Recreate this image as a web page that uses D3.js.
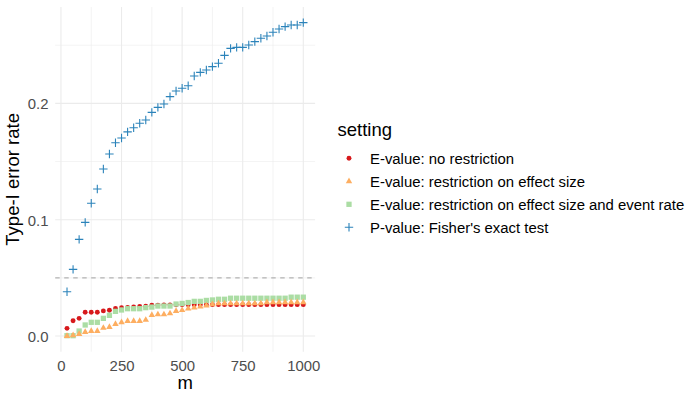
<!DOCTYPE html>
<html>
<head>
<meta charset="utf-8">
<script src="https://cdn.jsdelivr.net/npm/d3@7"></script>
<style>
  body { margin: 0; background: #fff; }
  svg text { font-family: "Liberation Sans", Arial, Helvetica, sans-serif; }
</style>
</head>
<body>
<svg id="chart" width="700" height="400"></svg>
<script>
// data
var mValues = [25, 50, 75, 100, 125, 150, 175, 200, 225, 250, 275, 300, 325, 350, 375, 400,
  425, 450, 475, 500, 525, 550, 575, 600, 625, 650, 675, 700, 725, 750, 775, 800,
  825, 850, 875, 900, 925, 950, 975, 1000];

var eNoRestriction = [0.0066, 0.0132, 0.0152, 0.0204, 0.0204, 0.0204, 0.0216, 0.0222, 0.0236, 0.0244,
  0.0246, 0.0250, 0.0254, 0.0256, 0.0264, 0.0266, 0.0268, 0.0268, 0.0268, 0.0270,
  0.0270, 0.0270, 0.0270, 0.0270, 0.0270, 0.0270, 0.0270, 0.0270, 0.0270, 0.0270,
  0.0270, 0.0270, 0.0270, 0.0270, 0.0270, 0.0270, 0.0270, 0.0270, 0.0270, 0.0270];

var eEffectSize = [0.0000, 0.0006, 0.0017, 0.0034, 0.0043, 0.0043, 0.0069, 0.0077, 0.0103, 0.0118,
  0.0129, 0.0129, 0.0129, 0.0138, 0.0180, 0.0186, 0.0186, 0.0195, 0.0215, 0.0222,
  0.0236, 0.0244, 0.0252, 0.0262, 0.0273, 0.0280, 0.0280, 0.0280, 0.0280, 0.0280,
  0.0280, 0.0280, 0.0280, 0.0290, 0.0290, 0.0290, 0.0290, 0.0290, 0.0290, 0.0290];

var eEffectEvent = [0.0003, 0.0003, 0.0043, 0.0095, 0.0118, 0.0118, 0.0152, 0.0178, 0.0212, 0.0224,
  0.0235, 0.0235, 0.0235, 0.0244, 0.0249, 0.0258, 0.0258, 0.0258, 0.0275, 0.0280,
  0.0288, 0.0298, 0.0298, 0.0306, 0.0310, 0.0316, 0.0316, 0.0325, 0.0325, 0.0325,
  0.0325, 0.0325, 0.0325, 0.0325, 0.0325, 0.0325, 0.0325, 0.0334, 0.0334, 0.0334];

var pFisher = [0.0381, 0.0573, 0.0831, 0.0977, 0.1141, 0.1264, 0.1436, 0.1565, 0.1662, 0.1703,
  0.1755, 0.1791, 0.1829, 0.1857, 0.1923, 0.1966, 0.1995, 0.2058, 0.2107, 0.2130,
  0.2152, 0.2236, 0.2267, 0.2287, 0.2316, 0.2345, 0.2413, 0.2473, 0.2482, 0.2482,
  0.2502, 0.2531, 0.2560, 0.2579, 0.2611, 0.2640, 0.2660, 0.2674, 0.2674, 0.2694];

var settingNames = ["E-value: no restriction", "E-value: restriction on effect size",
  "E-value: restriction on effect size and event rate", "P-value: Fisher's exact test"];
var settingColors = ["#D7191C", "#FDAE61", "#ABDDA4", "#2B83BA"];
var settingShapes = ["circle", "triangle", "square", "cross"];

var xTicks = [0, 250, 500, 750, 1000];
var xMinor = [125, 375, 625, 875];
var yTicks = [0, 0.1, 0.2];
var yTickLabels = ["0.0", "0.1", "0.2"];
var yMinor = [0.05, 0.15, 0.25];
var alphaLevel = 0.05;

var seriesList = [eNoRestriction, eEffectSize, eEffectEvent, pFisher];

var svg = d3.select("#chart");
var panel = { left: 55.2, right: 315.1, top: 7, bottom: 351.7 };

// ggplot-style 5% expansion
var xExt = d3.extent(mValues);
var xPad = (xExt[1] - xExt[0]) * 0.05;
var x = d3.scaleLinear().domain([xExt[0] - xPad, xExt[1] + xPad]).range([panel.left, panel.right]);

var allY = d3.merge(seriesList);
var yExt = d3.extent(allY);
var yPad = (yExt[1] - yExt[0]) * 0.05;
var y = d3.scaleLinear().domain([yExt[0] - yPad, yExt[1] + yPad]).range([panel.bottom, panel.top]);

// grid
var grid = svg.append("g");
grid.selectAll("line.xminor").data(xMinor).enter().append("line")
  .attr("x1", d => x(d)).attr("x2", d => x(d))
  .attr("y1", panel.top).attr("y2", panel.bottom)
  .attr("stroke", "#EBEBEB").attr("stroke-width", 0.6);
grid.selectAll("line.yminor").data(yMinor).enter().append("line")
  .attr("x1", panel.left).attr("x2", panel.right)
  .attr("y1", d => y(d)).attr("y2", d => y(d))
  .attr("stroke", "#EBEBEB").attr("stroke-width", 0.6);
grid.selectAll("line.xmajor").data(xTicks).enter().append("line")
  .attr("x1", d => x(d)).attr("x2", d => x(d))
  .attr("y1", panel.top).attr("y2", panel.bottom)
  .attr("stroke", "#EBEBEB").attr("stroke-width", 1.1);
grid.selectAll("line.ymajor").data(yTicks).enter().append("line")
  .attr("x1", panel.left).attr("x2", panel.right)
  .attr("y1", d => y(d)).attr("y2", d => y(d))
  .attr("stroke", "#EBEBEB").attr("stroke-width", 1.1);

// dashed reference line
svg.append("line")
  .attr("x1", panel.left).attr("x2", panel.right)
  .attr("y1", y(alphaLevel)).attr("y2", y(alphaLevel))
  .attr("stroke", "#B3B3B3").attr("stroke-width", 1.1)
  .attr("stroke-dasharray", "4.5,4.5");

// axes labels
var xAxis = d3.axisBottom(x).tickValues(xTicks).tickSize(0).tickPadding(0)
  .tickFormat(d3.format("d"));
var gx = svg.append("g").attr("transform", "translate(0,359)").call(xAxis);
gx.select(".domain").remove();
gx.selectAll("text").attr("font-size", 14.9).attr("fill", "#4D4D4D")
  .attr("y", 12).attr("dy", 0).attr("font-family", null);

var yAxis = d3.axisLeft(y).tickValues(yTicks).tickSize(0).tickPadding(0)
  .tickFormat((d, i) => yTickLabels[i]);
var gy = svg.append("g").attr("transform", "translate(48.5,0)").call(yAxis);
gy.select(".domain").remove();
gy.selectAll("text").attr("font-size", 14.9).attr("fill", "#4D4D4D")
  .attr("x", 0).attr("dy", "0.36em").attr("font-family", null);

svg.append("text").attr("x", (panel.left + panel.right) / 2).attr("y", 389)
  .attr("text-anchor", "middle").attr("font-size", 18.5).attr("fill", "#000")
  .text("m");
svg.append("text").attr("transform", "translate(19," + ((panel.top + panel.bottom) / 2) + ") rotate(-90)")
  .attr("text-anchor", "middle").attr("font-size", 18.5).attr("fill", "#000")
  .text("Type-I error rate");

// point shapes
function shapePath(shape) {
  if (shape === "circle") return d3.symbol(d3.symbolCircle, 19)();
  if (shape === "triangle") return d3.symbol(d3.symbolTriangle, 18)();
  if (shape === "square") return d3.symbol(d3.symbolSquare, 28)();
  return "M-4.2,0H4.2M0,-4.2V4.2";
}

var drawOrder = [0, 2, 1, 3];
drawOrder.forEach(function(s) {
  var pts = mValues.map((m, i) => ({ m: m, v: seriesList[s][i] }));
  var g = svg.append("g");
  var sel = g.selectAll("path").data(pts).enter().append("path")
    .attr("transform", d => "translate(" + x(d.m) + "," + y(d.v) + ")")
    .attr("d", shapePath(settingShapes[s]));
  if (settingShapes[s] === "cross") {
    sel.attr("fill", "none").attr("stroke", settingColors[s]).attr("stroke-width", 1.1);
  } else {
    sel.attr("fill", settingColors[s]);
  }
});

// legend
var legend = svg.append("g");
legend.append("text").attr("x", 337.5).attr("y", 136).attr("font-size", 18.5)
  .attr("fill", "#000").text("setting");
var rowY = [158.3, 181.3, 204.3, 227.3];
settingNames.forEach(function(name, i) {
  var p = legend.append("path")
    .attr("transform", "translate(349," + rowY[i] + ")")
    .attr("d", shapePath(settingShapes[i]));
  if (settingShapes[i] === "cross") {
    p.attr("fill", "none").attr("stroke", settingColors[i]).attr("stroke-width", 1.1);
  } else {
    p.attr("fill", settingColors[i]);
  }
  legend.append("text").attr("x", 370).attr("y", rowY[i]).attr("dy", "0.36em")
    .attr("font-size", 14.9).attr("fill", "#000").text(name);
});
</script>
</body>
</html>
